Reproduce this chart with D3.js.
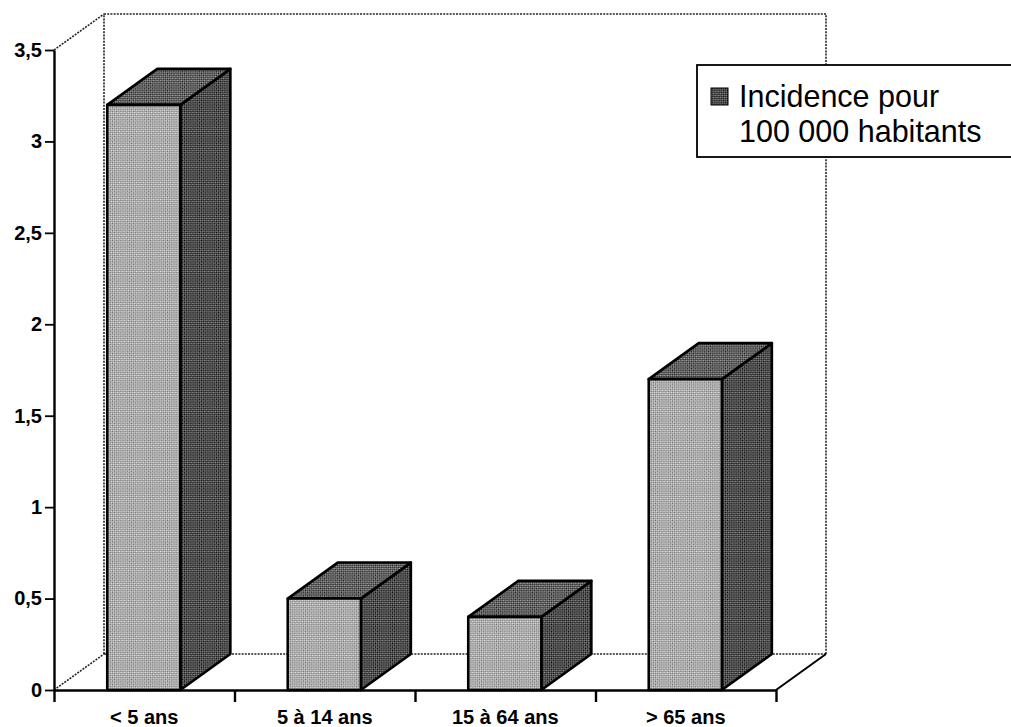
<!DOCTYPE html>
<html>
<head>
<meta charset="utf-8">
<script src="https://cdn.jsdelivr.net/npm/d3@7"></script>
<style>
  html, body { margin: 0; padding: 0; background: #fff; }
  svg { display: block; }
  .tick text { font-family: "Liberation Sans", Arial, sans-serif; font-weight: bold; }
</style>
</head>
<body>
<svg id="chart" width="1011" height="727"></svg>
<script>
// Data
const categories = ["< 5 ans", "5 à 14 ans", "15 à 64 ans", "> 65 ans"];
const incidence = [3.2, 0.5, 0.4, 1.7];
const yTickValues = [0, 0.5, 1, 1.5, 2, 2.5, 3, 3.5];
const yTickLabels = ["0", "0,5", "1", "1,5", "2", "2,5", "3", "3,5"];
const legendLines = ["Incidence pour", "100 000 habitants"];

(function draw() {
  const svg = d3.select("#chart");

  // Plot geometry (front plane + depth offset of the 3D box)
  const plotLeft = 54, plotRight = 776, plotBottom = 690, plotTop = 50;
  const depthX = 50, depthY = -36;

  const x = d3.scaleBand().domain(categories).range([plotLeft, plotRight]).padding(0);
  const y = d3.scaleLinear().domain([0, 3.5]).range([plotBottom, plotTop]);
  const xEdges = d3.scaleLinear().domain([0, categories.length]).range([plotLeft, plotRight]);

  // Dither patterns for the bar faces
  const defs = svg.append("defs");
  function checker(id, bg, fg) {
    const p = defs.append("pattern")
      .attr("id", id).attr("width", 3).attr("height", 3)
      .attr("patternUnits", "userSpaceOnUse")
      .attr("patternTransform", "rotate(45)");
    p.append("rect").attr("width", 3).attr("height", 3).attr("fill", bg);
    p.append("rect").attr("width", 1.5).attr("height", 1.5).attr("fill", fg);
    p.append("rect").attr("x", 1.5).attr("y", 1.5).attr("width", 1.5).attr("height", 1.5).attr("fill", fg);
  }
  checker("faceFront", "#ececec", "#6a6a6a");
  checker("faceSide", "#9a9a9a", "#000");
  checker("faceTop", "#b0b0b0", "#111");

  // Back wall, side wall and floor edges
  const backLeft = plotLeft + depthX, backRight = plotRight + depthX;
  const backTop = y(3.5) + depthY, backBottom = y(0) + depthY;
  const dotted = svg.append("g")
    .attr("fill", "none").attr("stroke", "#222")
    .attr("stroke-width", 1.6).attr("stroke-dasharray", "2,1.2");
  dotted.append("path").attr("d", `M${backLeft},${backBottom}V${backTop}H${backRight}V${backBottom}`);
  dotted.append("path").attr("d", `M${plotLeft},${y(3.5)}L${backLeft},${backTop}`);
  dotted.append("path").attr("d", `M${plotLeft},${y(0)}L${backLeft},${backBottom}`);
  dotted.append("path").attr("d", `M${backLeft},${backBottom}H${backRight}`);
  svg.append("path")
    .attr("d", `M${plotRight},${y(0)}L${backRight},${backBottom}`)
    .attr("stroke", "#000").attr("stroke-width", 2).attr("fill", "none");

  // Bars
  const barOffset = x.bandwidth() * 0.295;
  const barWidth = x.bandwidth() * 0.405;
  const bars = svg.append("g").attr("stroke", "#000").attr("stroke-width", 2.6)
    .attr("stroke-linejoin", "round");
  categories.forEach((c, i) => {
    const v = incidence[i];
    const x0 = x(c) + barOffset, x1 = x0 + barWidth;
    const yt = y(v), yb = y(0);
    const g = bars.append("g");
    g.append("polygon").attr("fill", "url(#faceSide)")
      .attr("points", [[x1, yb], [x1 + depthX, yb + depthY], [x1 + depthX, yt + depthY], [x1, yt]].join(" "));
    g.append("polygon").attr("fill", "url(#faceTop)")
      .attr("points", [[x0, yt], [x0 + depthX, yt + depthY], [x1 + depthX, yt + depthY], [x1, yt]].join(" "));
    g.append("rect").attr("fill", "url(#faceFront)")
      .attr("x", x0).attr("y", yt).attr("width", barWidth).attr("height", yb - yt);
  });

  // Y axis
  const yAxis = svg.append("g").attr("transform", `translate(${plotLeft},0)`)
    .call(d3.axisLeft(y).tickValues(yTickValues)
      .tickFormat((d, i) => yTickLabels[i]).tickSize(9).tickSizeOuter(0).tickPadding(3));
  yAxis.select(".domain").attr("stroke-width", 2.4);
  yAxis.selectAll(".tick line").attr("stroke-width", 1.8);
  yAxis.selectAll(".tick text").attr("font-size", 20).attr("fill", "#000");

  // X axis: boundary ticks plus centred category labels
  const xAxis = svg.append("g").attr("transform", `translate(0,${plotBottom})`)
    .call(d3.axisBottom(xEdges).tickValues(d3.range(categories.length + 1))
      .tickFormat("").tickSize(12).tickSizeOuter(0));
  xAxis.select(".domain").attr("stroke-width", 2.4);
  xAxis.selectAll(".tick line").attr("stroke-width", 2.4);

  const xLabels = svg.append("g").attr("transform", `translate(0,${plotBottom})`)
    .call(d3.axisBottom(x).tickSize(0).tickPadding(20));
  xLabels.select(".domain").remove();
  xLabels.selectAll(".tick text").attr("font-size", 20).attr("fill", "#000");

  // Legend
  const legend = svg.append("g");
  legend.append("rect")
    .attr("x", 697).attr("y", 65).attr("width", 340).attr("height", 92)
    .attr("fill", "#fff").attr("stroke", "#000").attr("stroke-width", 1.8);
  legend.append("rect")
    .attr("x", 711).attr("y", 88).attr("width", 17).attr("height", 17)
    .attr("fill", "url(#faceSide)").attr("stroke", "#000").attr("stroke-width", 1);
  const legendText = legend.append("text")
    .attr("font-family", "'Liberation Sans', Arial, sans-serif")
    .attr("font-size", 30.5).attr("fill", "#000");
  legendLines.forEach((line, i) => {
    legendText.append("tspan").attr("x", 739).attr("y", 107 + i * 35).text(line);
  });
})();
</script>
</body>
</html>
